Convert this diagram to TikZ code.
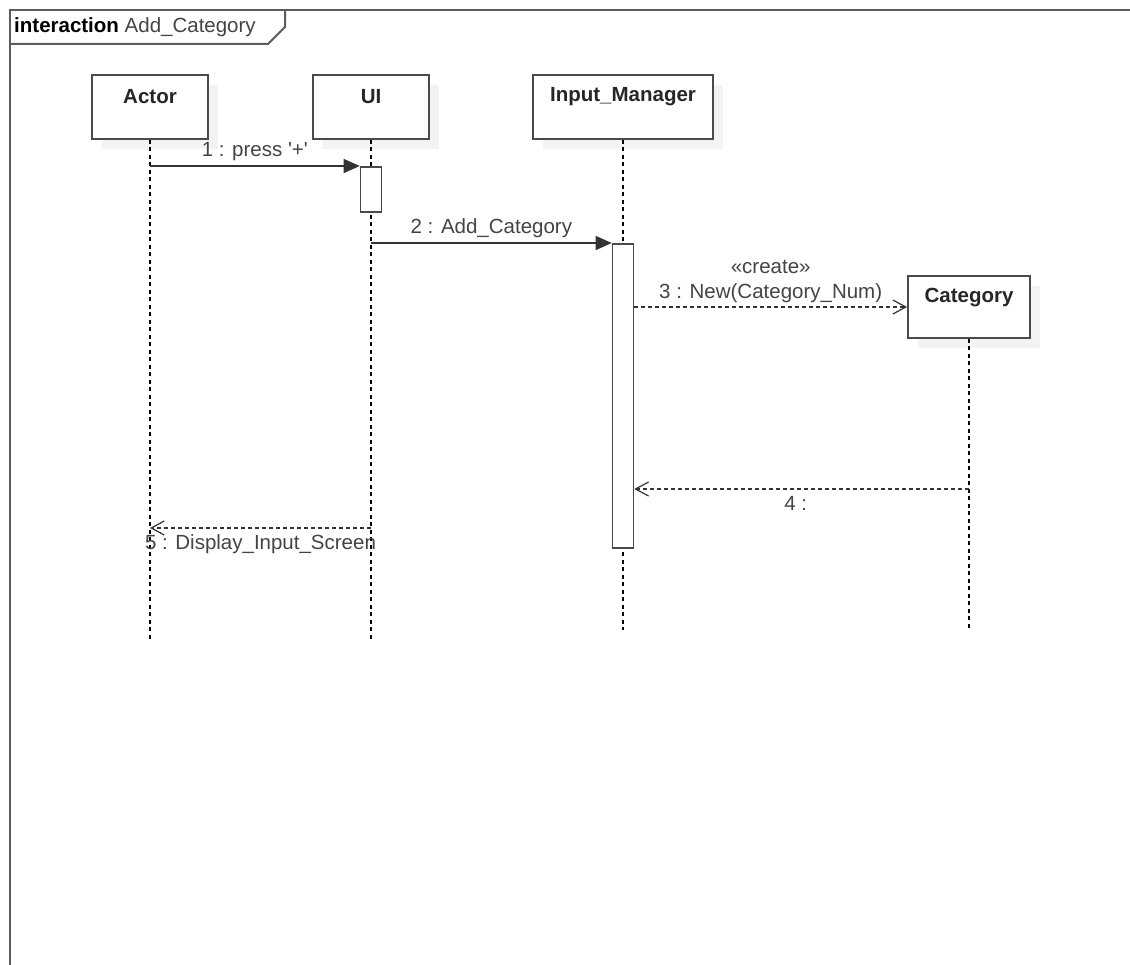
\documentclass[tikz,border=0pt]{standalone}
\usepackage{fontspec}
\setmainfont{Liberation Sans}
\usetikzlibrary{arrows.meta,calc}
\definecolor{boxline}{HTML}{4A4A4A}
\definecolor{msgline}{HTML}{333333}
\definecolor{labeltext}{HTML}{444444}
\definecolor{shadowc}{HTML}{F3F3F3}
\begin{document}
\begin{tikzpicture}[x=1pt,y=-1pt,
  font=\fontsize{20.5}{24}\selectfont,
  frameline/.style={draw=boxline!90, line width=2pt},
  objbox/.style={draw=boxline, line width=1.8pt, fill=white, minimum width=116pt, minimum height=64pt, inner sep=0pt},
  objname/.style={font=\fontsize{20.5}{24}\selectfont\bfseries, text=black!85, inner sep=0pt},
  actbox/.style={draw=boxline, line width=1.6pt, fill=white, minimum width=21pt, inner sep=0pt},
  lifeline/.style={draw=black, line width=1.2pt, dash pattern=on 4pt off 3.5pt},
  syncmsg/.style={draw=msgline, line width=1.4pt, -{Triangle[length=16pt,width=14pt]}},
  replymsg/.style={draw=msgline, line width=1.4pt, dash pattern=on 4pt off 3pt, -{Straight Barb[length=13pt,width=14pt,line width=1.2pt]}},
  msglabel/.style={text=labeltext, inner sep=0pt, font=\fontsize{20.5}{24}\selectfont}
]
\useasboundingbox (0,0) rectangle (1130,965);
\fill[white] (0,0) rectangle (1130,965);

% frame
\draw[frameline] (10,975) -- (10,10) -- (1140,10);
\draw[frameline] (10,44) -- (268,44) -- (285,27) -- (285,10);
\node[anchor=base west, inner sep=0pt] (title) at (14,33) {\textbf{interaction} \textcolor{labeltext}{Add\_Category}};

% shadows
\fill[shadowc] (102,85) rectangle (218,149);
\fill[shadowc] (323,85) rectangle (439,149);
\fill[shadowc] (543,85) rectangle (723,149);
\fill[shadowc] (918,286) rectangle (1040,348);

% objects
\node[objbox] (actor) at (150,107) {};
\node[objbox] (ui) at (371,107) {};
\node[objbox, minimum width=180pt] (im) at (623,107) {};
\node[objbox, minimum width=122pt, minimum height=62pt] (cat) at (969,307) {};

\node[objname] (actorT) at (150,97) {Actor};
\node[objname] (uiT) at (371,97) {UI};
\node[objname] (imT) at (623,97) {Input\_Manager};
\node[objname] (catT) at (969,298) {Category};

% lifeline ends
\coordinate (actorEnd) at (150,640);
\coordinate (uiEnd) at (371,640);
\coordinate (imEnd) at (623,630);
\coordinate (catEnd) at (969,628);

\draw[lifeline] (actor.south) -- (actorEnd);
\draw[lifeline] (ui.south) -- (uiEnd);
\draw[lifeline] (im.south) -- (imEnd);
\draw[lifeline] (cat.south) -- (catEnd);

% activations
\node[actbox, minimum height=45pt, anchor=north] (uiAct) at (371,166) {};
\node[actbox, minimum height=304pt, anchor=north] (imAct) at (623,243) {};

% messages
\coordinate (m1s) at (actor.south |- uiAct.north);
\draw[syncmsg] (m1s) -- node[msglabel, above=5pt] (l1) {1 : press \textquotesingle+\textquotesingle} (uiAct.north west);

\coordinate (m2s) at (ui.south |- imAct.north);
\draw[syncmsg] (m2s) -- node[msglabel, above=5pt] (l2) {2 : Add\_Category} (imAct.north west);

\coordinate (m3s) at (imAct.east |- cat.west);
\draw[replymsg] (m3s) -- node[msglabel, above=4pt, align=center] (l3) {«create»\\[1pt]3 : New(Category\_Num)} (cat.west);

\coordinate (m4s) at (cat.south |- 0,489);
\coordinate (m4e) at (imAct.east |- m4s);
\draw[replymsg] (m4s) -- node[msglabel, below=7pt, xshift=-6pt] (l4) {4 :} (m4e);

\coordinate (m5s) at (ui.south |- 0,528);
\coordinate (m5e) at (actor.south |- m5s);
\draw[replymsg] (m5s) -- node[msglabel, below=6pt] (l5) {5 : Display\_Input\_Screen} (m5e);
\end{tikzpicture}
\end{document}
